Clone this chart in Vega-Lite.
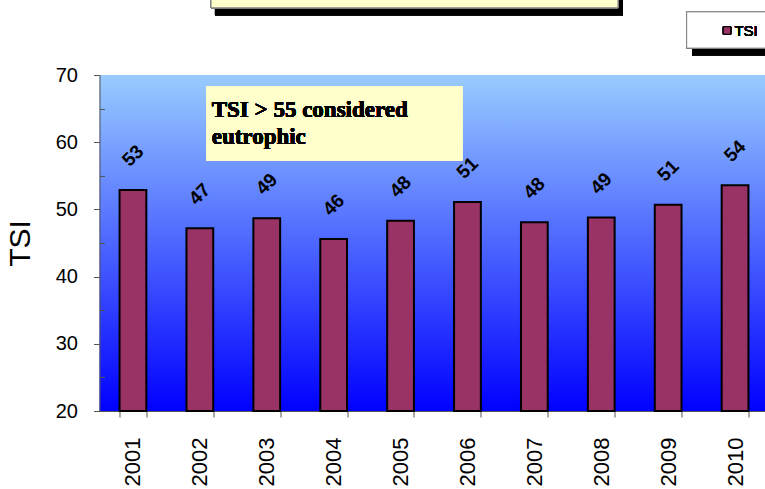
{
  "$schema": "https://vega.github.io/schema/vega-lite/v6.json",
  "width": 669,
  "height": 336,
  "autosize": {"type": "none"},
  "padding": {"left": 99.5, "top": 75, "right": -3.5, "bottom": 78},
  "background": "white",
  "config": {
    "font": "Liberation Sans",
    "view": {
      "stroke": null,
      "fill": {
        "gradient": "linear", "x1": 0, "y1": 0, "x2": 0, "y2": 1,
        "stops": [{"offset": 0, "color": "#99CCFF"}, {"offset": 1, "color": "#0000FF"}]
      }
    }
  },
  "data": {
    "values": [
      {"Year": "2001", "TSI": 52.9},
      {"Year": "2002", "TSI": 47.2},
      {"Year": "2003", "TSI": 48.7},
      {"Year": "2004", "TSI": 45.6},
      {"Year": "2005", "TSI": 48.3},
      {"Year": "2006", "TSI": 51.1},
      {"Year": "2007", "TSI": 48.1},
      {"Year": "2008", "TSI": 48.8},
      {"Year": "2009", "TSI": 50.7},
      {"Year": "2010", "TSI": 53.6}
    ]
  },
  "resolve": {"scale": {"x": "independent", "y": "independent"}, "axis": {"x": "independent", "y": "independent"}},
  "layer": [
    {
      "encoding": {
        "x": {
          "field": "Year", "type": "ordinal",
          "scale": {"paddingInner": 0.6, "paddingOuter": 0.3},
          "axis": {
            "title": null, "labelAngle": 270, "labelFontSize": 22, "labelColor": "black",
            "labelAlign": "right", "labelBaseline": "middle", "labelPadding": 20,
            "tickSize": 6, "tickBand": "extent", "domainColor": "#555", "tickColor": "#555", "grid": false
          }
        },
        "y": {
          "field": "TSI", "type": "quantitative",
          "scale": {"domain": [20, 70], "nice": false, "zero": false},
          "axis": {
            "title": "TSI", "titleFontSize": 30, "titleFontWeight": "normal", "titleColor": "black",
            "titlePadding": 20,
            "values": [20, 25, 30, 35, 40, 45, 50, 55, 60, 65, 70],
            "labelExpr": "datum.value % 10 === 0 ? datum.label : ''",
            "labelFontSize": 20, "labelColor": "black", "labelPadding": 16,
            "tickSize": {"condition": {"test": "datum.value % 10 === 0", "value": 6}, "value": -5},
            "domainColor": "#555", "tickColor": "#555", "grid": false
          }
        }
      },
      "layer": [
        {
          "mark": {"type": "bar", "fill": "#993366", "stroke": "black", "strokeWidth": 2},
          "encoding": {"y2": {"datum": 20}}
        },
        {
          "mark": {"type": "text", "angle": 315, "align": "center", "baseline": "middle", "yOffset": -34, "fontSize": 19, "fontWeight": "bold", "color": "black"},
          "encoding": {"text": {"field": "TSI", "type": "quantitative", "format": ".0f"}}
        }
      ]
    },
    {
      "layer": [
        {
          "mark": {"type": "rect", "fill": "black", "clip": false},
          "encoding": {
            "x": {"datum": 1.726, "type": "quantitative", "scale": {"domain": [0, 10], "nice": false, "zero": false}, "axis": null},
            "x2": {"datum": 7.825},
            "y": {"datum": 78.9, "type": "quantitative", "scale": {"domain": [20, 70], "nice": false, "zero": false}, "axis": null},
            "y2": {"datum": 84}
          }
        },
        {
          "mark": {"type": "rect", "fill": "#FFFFCC", "stroke": "#808080", "strokeWidth": 1, "clip": false},
          "encoding": {
            "x": {"datum": 1.667, "type": "quantitative", "scale": {"domain": [0, 10], "nice": false, "zero": false}, "axis": null},
            "x2": {"datum": 7.75},
            "y": {"datum": 80, "type": "quantitative", "scale": {"domain": [20, 70], "nice": false, "zero": false}, "axis": null},
            "y2": {"datum": 84}
          }
        },
        {
          "mark": {"type": "rect", "fill": "black", "clip": false},
          "encoding": {
            "x": {"datum": 8.857, "type": "quantitative", "scale": {"domain": [0, 10], "nice": false, "zero": false}, "axis": null},
            "x2": {"datum": 10.5},
            "y": {"datum": 72.95, "type": "quantitative", "scale": {"domain": [20, 70], "nice": false, "zero": false}, "axis": null},
            "y2": {"datum": 79}
          }
        },
        {
          "mark": {"type": "rect", "fill": "white", "stroke": "#808080", "strokeWidth": 1, "clip": false},
          "encoding": {
            "x": {"datum": 8.777, "type": "quantitative", "scale": {"domain": [0, 10], "nice": false, "zero": false}, "axis": null},
            "x2": {"datum": 10.5},
            "y": {"datum": 74.0, "type": "quantitative", "scale": {"domain": [20, 70], "nice": false, "zero": false}, "axis": null},
            "y2": {"datum": 79.4}
          }
        },
        {
          "mark": {"type": "point", "shape": "square", "filled": true, "fill": "#993366", "stroke": "black", "strokeWidth": 1, "size": 55, "opacity": 1, "clip": false},
          "encoding": {
            "x": {"datum": 9.38, "type": "quantitative", "scale": {"domain": [0, 10], "nice": false, "zero": false}, "axis": null},
            "y": {"datum": 76.62, "type": "quantitative", "scale": {"domain": [20, 70], "nice": false, "zero": false}, "axis": null}
          }
        },
        {
          "mark": {"type": "text", "text": "TSI", "align": "left", "baseline": "middle", "fontSize": 15, "color": "black", "clip": false},
          "encoding": {
            "x": {"datum": 9.49, "type": "quantitative", "scale": {"domain": [0, 10], "nice": false, "zero": false}, "axis": null},
            "y": {"datum": 76.62, "type": "quantitative", "scale": {"domain": [20, 70], "nice": false, "zero": false}, "axis": null}
          }
        },
        {
          "mark": {"type": "rect", "fill": "#FFFFCC"},
          "encoding": {
            "x": {"datum": 1.602, "type": "quantitative", "scale": {"domain": [0, 10], "nice": false, "zero": false}, "axis": null},
            "x2": {"datum": 5.423},
            "y": {"datum": 57.25, "type": "quantitative", "scale": {"domain": [20, 70], "nice": false, "zero": false}, "axis": null},
            "y2": {"datum": 68.36}
          }
        },
        {
          "mark": {"type": "text", "text": ["TSI > 55 considered", "eutrophic"], "align": "left", "baseline": "alphabetic", "lineHeight": 27, "font": "Liberation Serif", "fontSize": 23, "fontWeight": "bold", "color": "black"},
          "encoding": {
            "x": {"datum": 1.677, "type": "quantitative", "scale": {"domain": [0, 10], "nice": false, "zero": false}, "axis": null},
            "y": {"datum": 63.8, "type": "quantitative", "scale": {"domain": [20, 70], "nice": false, "zero": false}, "axis": null}
          }
        }
      ]
    }
  ]
}
